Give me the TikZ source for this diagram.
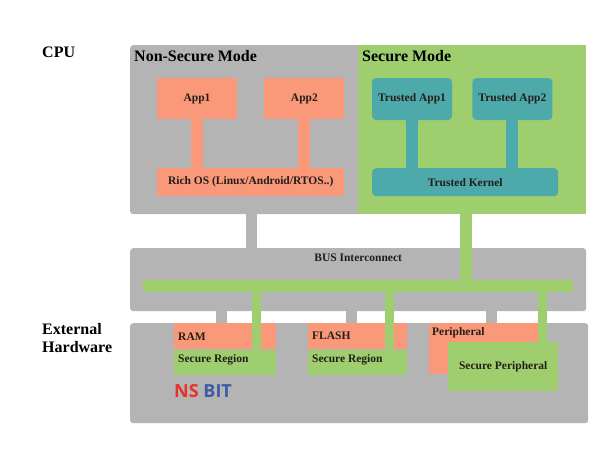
\documentclass[tikz,border=0pt]{standalone}
\usepackage{fontspec}
\setmainfont{Liberation Serif}
\newfontfamily\bitfont{Open Sans}
\usetikzlibrary{positioning}
\definecolor{boxgray}{RGB}{180,180,180}
\definecolor{salmon}{RGB}{250,152,122}
\definecolor{secgreen}{RGB}{159,206,110}
\definecolor{tealbox}{RGB}{78,170,170}
\definecolor{nsred}{RGB}{232,50,40}
\definecolor{bitblue}{RGB}{58,92,168}
\definecolor{inktext}{RGB}{35,30,25}

\tikzset{
  bigfont/.style={font=\bfseries\fontsize{16}{18}\selectfont},
  smallfont/.style={font=\bfseries\fontsize{11.5}{13}\selectfont, text=inktext},
  panel/.style={rectangle, rounded corners=3pt, fill=boxgray, anchor=north west, inner sep=0pt},
  nsbox/.style={rectangle, fill=salmon, smallfont, inner sep=0pt},
  trbox/.style={rectangle, rounded corners=4pt, fill=tealbox, smallfont, inner sep=0pt},
  secbox/.style={rectangle, fill=secgreen, smallfont, inner sep=0pt},
  membox/.style={rectangle, anchor=north west, smallfont, inner sep=0pt},
  memtext/.style={smallfont, anchor=west, inner sep=0pt},
  nslink/.style={salmon, line width=12pt},
  trlink/.style={tealbox, line width=12pt},
  graylink/.style={boxgray, line width=11pt},
  seclink/.style={secgreen, line width=12pt},
  secdrop/.style={secgreen, line width=9pt}
}

\begin{document}
\begin{tikzpicture}[x=1pt, y=-1pt]
  \useasboundingbox (0,0) rectangle (607,452);

  % side labels
  \node[bigfont, anchor=base west, inner sep=0pt] (cpulbl) at (42,58) {CPU};
  \node[bigfont, anchor=north west, inner sep=0pt, align=left] (extlbl) at (42,323)
    {External\\Hardware};

  % CPU
  \node[panel, minimum width=234pt, minimum height=169pt] (nonsec) at (130,45) {};
  \node[panel, rounded corners=0pt, fill=secgreen, minimum width=228pt, minimum height=169pt]
    (sec) at (358,45) {};
  \node[bigfont, anchor=base west, inner sep=0pt] (nstitle) at (134,62) {Non-Secure Mode};
  \node[bigfont, anchor=base west, inner sep=0pt] (stitle) at (362,62) {Secure Mode};

  \node[nsbox, minimum width=80pt, minimum height=41pt] (app1) at (197,98.5) {App1};
  \node[nsbox, minimum width=80pt, minimum height=41pt, right=27pt of app1] (app2) {App2};
  \node[nsbox, minimum width=187pt, minimum height=28pt, anchor=north west] (richos)
    at (157,168) {Rich OS (Linux/Android/RTOS..)};
  \draw[nslink] (app1.south) -- (app1.south |- richos.north);
  \draw[nslink] (app2.south) -- (app2.south |- richos.north);

  \node[trbox, minimum width=80pt, minimum height=42pt] (tapp1) at (412,99) {Trusted App1};
  \node[trbox, minimum width=80pt, minimum height=42pt, right=20pt of tapp1] (tapp2) {Trusted App2};
  \node[trbox, minimum width=186pt, minimum height=28pt, anchor=north west] (tkernel)
    at (372,168) {Trusted Kernel};
  \draw[trlink] (tapp1.south) -- (tapp1.south |- tkernel.north);
  \draw[trlink] (tapp2.south) -- (tapp2.south |- tkernel.north);

  % bus
  \node[panel, minimum width=456pt, minimum height=63pt] (bus) at (130,248) {};
  \node[smallfont, anchor=north, inner sep=0pt] (buslbl) at ([yshift=-6pt]bus.north) {BUS Interconnect};
  \node[secbox, minimum width=430pt, minimum height=12pt, anchor=north west] (busline) at (143,280) {};
  \draw[graylink] (251.5,0 |- nonsec.south) -- (251.5,0 |- bus.north);
  \draw[seclink] ([xshift=-6.5pt]sec.south) -- ([xshift=-6.5pt]sec.south |- busline.north);

  % external hardware
  \node[panel, minimum width=458pt, minimum height=100pt] (ext) at (130,323) {};

  \node[membox, fill=salmon, minimum width=102pt, minimum height=26pt] (ram) at (174,323) {};
  \node[membox, fill=secgreen, minimum width=102pt, minimum height=25pt, below=0pt of ram] (ramsec) {};
  \node[membox, fill=salmon, minimum width=99pt, minimum height=26pt] (flash) at (308,323) {};
  \node[membox, fill=secgreen, minimum width=99pt, minimum height=25pt, below=0pt of flash] (flashsec) {};
  \node[membox, fill=salmon, minimum width=109pt, minimum height=51pt] (periph) at (429,323) {};
  \node[secbox, minimum width=110pt, minimum height=49pt, anchor=north west] (secperiph)
    at (448,342) {Secure Peripheral};

  \node[memtext] (ramlbl) at ([xshift=4pt]ram.west) {RAM};
  \node[memtext] (ramseclbl) at ([xshift=4pt,yshift=2pt]ramsec.west) {Secure Region};
  \node[memtext] (flashlbl) at ([xshift=4pt]flash.west) {FLASH};
  \node[memtext] (flashseclbl) at ([xshift=4pt,yshift=2pt]flashsec.west) {Secure Region};
  \node[memtext] (periphlbl) at ([xshift=3pt,yshift=-10pt]periph.north west) {Peripheral};

  \draw[graylink] ([xshift=47.5pt]ram.north west) -- ([xshift=47.5pt]ram.north west |- bus.south);
  \draw[graylink] ([xshift=43.5pt]flash.north west) -- ([xshift=43.5pt]flash.north west |- bus.south);
  \draw[graylink] ([xshift=62pt]periph.north west) -- ([xshift=62pt]periph.north west |- bus.south);
  \draw[secdrop] ([xshift=-20pt]ramsec.north east) -- ([xshift=-20pt]ramsec.north east |- busline.south);
  \draw[secdrop] ([xshift=-17.5pt]flashsec.north east) -- ([xshift=-17.5pt]flashsec.north east |- busline.south);
  \draw[secdrop] ([xshift=-15.5pt]secperiph.north east) -- ([xshift=-15.5pt]secperiph.north east |- busline.south);

  \node[anchor=west, inner sep=0pt, font=\bitfont\bfseries\fontsize{18}{20}\selectfont] (nsbit) at (174,391)
    {\textcolor{nsred}{NS} \textcolor{bitblue}{BIT}};
\end{tikzpicture}
\end{document}
